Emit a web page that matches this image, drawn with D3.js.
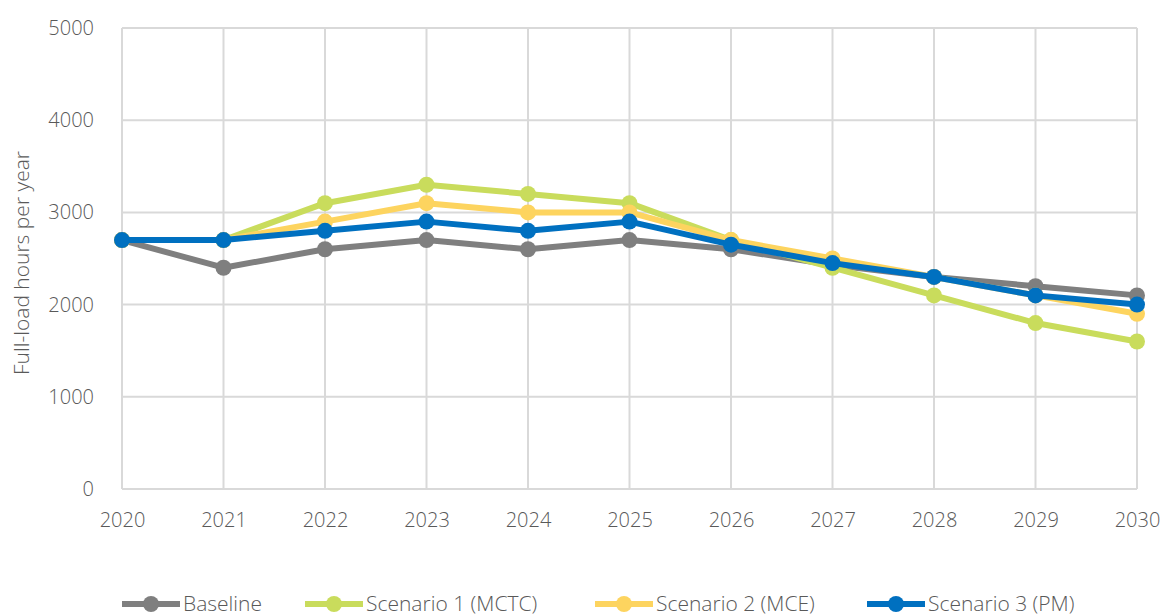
<!DOCTYPE html>
<html>
<head>
<meta charset="utf-8">
<script src="https://cdn.jsdelivr.net/npm/d3@7"></script>
<style>
  body { margin: 0; background: #fff; }
  text { font-family: "Open Sans", "Noto Sans", sans-serif; font-weight: 300; fill: #595959; }
</style>
</head>
<body>
<svg id="chart" width="1163" height="616"></svg>
<script>
const years = [2020, 2021, 2022, 2023, 2024, 2025, 2026, 2027, 2028, 2029, 2030];
const yTicks = [0, 1000, 2000, 3000, 4000, 5000];
const seriesNames = ["Baseline", "Scenario 1 (MCTC)", "Scenario 2 (MCE)", "Scenario 3 (PM)"];
const seriesColors = ["#7f7f7f", "#c9dc5c", "#fdd45f", "#0070c0"];
const baseline = [2700, 2400, 2600, 2700, 2600, 2700, 2600, 2430, 2300, 2200, 2100];
const scenario1 = [2700, 2700, 3100, 3300, 3200, 3100, 2700, 2400, 2100, 1800, 1600];
const scenario2 = [2700, 2700, 2900, 3100, 3000, 3000, 2700, 2500, 2300, 2100, 1900];
const scenario3 = [2700, 2700, 2800, 2900, 2800, 2900, 2650, 2450, 2300, 2100, 2000];
const allSeries = [baseline, scenario1, scenario2, scenario3];

const svg = d3.select("#chart");
const plotLeft = 122, plotRight = 1137, plotTop = 28, plotBottom = 489;

const x = d3.scaleLinear().domain([2020, 2030]).range([plotLeft, plotRight]);
const y = d3.scaleLinear().domain([0, 5000]).range([plotBottom, plotTop]);

// grid
svg.append("g").selectAll("line").data(yTicks.slice(1)).enter().append("line")
  .attr("x1", plotLeft).attr("x2", plotRight)
  .attr("y1", d => y(d)).attr("y2", d => y(d))
  .attr("stroke", "#d9d9d9").attr("stroke-width", 2);
svg.append("g").selectAll("line").data(years).enter().append("line")
  .attr("x1", d => x(d)).attr("x2", d => x(d))
  .attr("y1", plotTop).attr("y2", plotBottom)
  .attr("stroke", "#d9d9d9").attr("stroke-width", 2);
svg.append("line").attr("x1", plotLeft).attr("x2", plotRight).attr("y1", plotBottom).attr("y2", plotBottom)
  .attr("stroke", "#d9d9d9").attr("stroke-width", 2);

// axes labels
const yAxis = svg.append("g").attr("transform", `translate(${plotLeft},0)`)
  .call(d3.axisLeft(y).tickValues(yTicks).tickFormat(d3.format("d")).tickSize(0).tickPadding(28));
yAxis.select(".domain").remove();
yAxis.selectAll("text").style("font-size", "20px").attr("fill", "#595959");

const xAxis = svg.append("g").attr("transform", `translate(0,${plotBottom})`)
  .call(d3.axisBottom(x).tickValues(years).tickFormat(d3.format("d")).tickSize(0).tickPadding(24));
xAxis.select(".domain").remove();
xAxis.selectAll("text").style("font-size", "20px").attr("fill", "#595959");

svg.append("text")
  .attr("transform", `translate(29,263) rotate(-90)`)
  .attr("text-anchor", "middle")
  .style("font-size", "21px")
  .text("Full-load hours per year");

// lines
const line = d3.line().x((d, i) => x(years[i])).y(d => y(d));
allSeries.forEach((s, k) => {
  const g = svg.append("g");
  g.append("path").datum(s).attr("d", line)
    .attr("fill", "none").attr("stroke", seriesColors[k]).attr("stroke-width", 6)
    .attr("stroke-linejoin", "round");
  g.selectAll("circle").data(s).enter().append("circle")
    .attr("cx", (d, i) => x(years[i])).attr("cy", d => y(d)).attr("r", 8)
    .attr("fill", seriesColors[k]);
});

// legend
const legendX = [122, 305, 595, 867];
const legend = svg.append("g").attr("transform", "translate(0,604)");
seriesNames.forEach((name, k) => {
  const g = legend.append("g").attr("transform", `translate(${legendX[k]},0)`);
  g.append("line").attr("x1", 0).attr("x2", 58).attr("y1", 0).attr("y2", 0)
    .attr("stroke", seriesColors[k]).attr("stroke-width", 6);
  g.append("circle").attr("cx", 29).attr("cy", 0).attr("r", 8).attr("fill", seriesColors[k]);
  g.append("text").attr("x", 61).attr("y", 7).style("font-size", "21px").text(name);
});
</script>
</body>
</html>
